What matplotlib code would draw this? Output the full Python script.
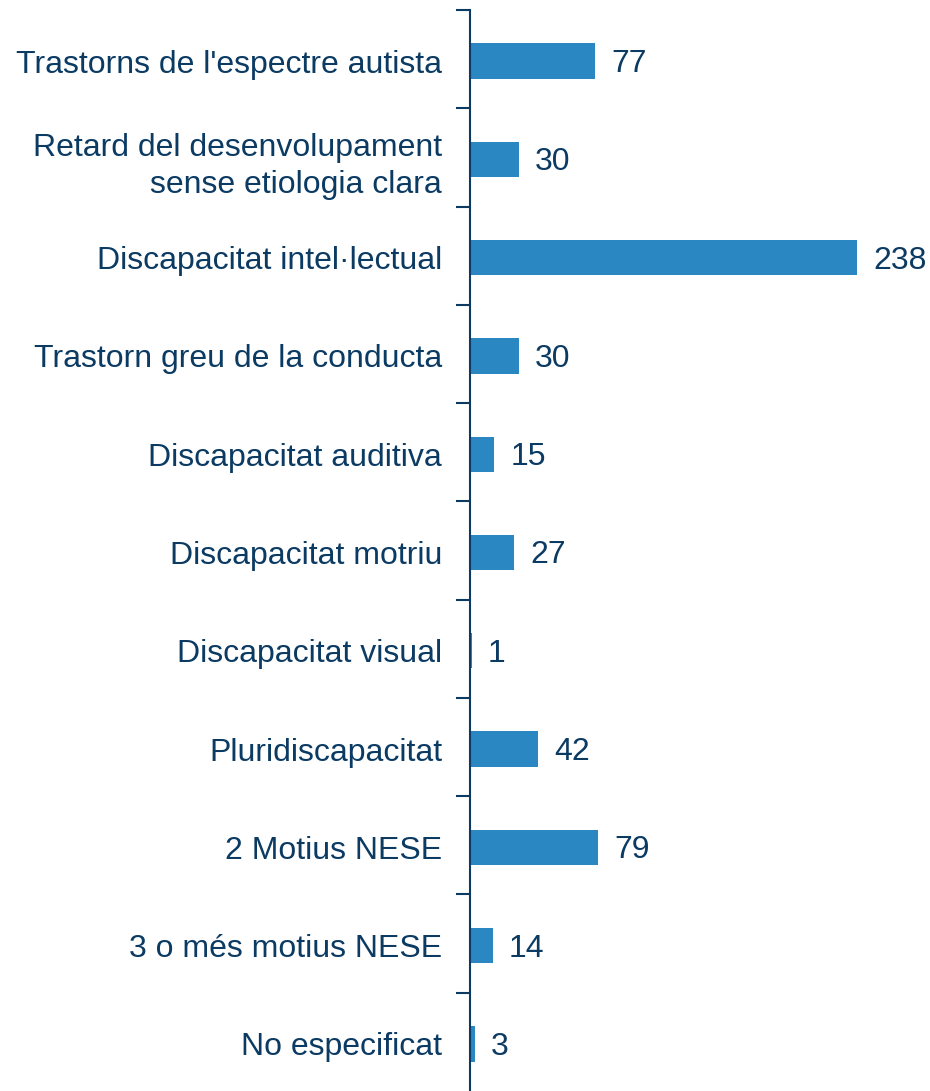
import matplotlib.pyplot as plt
import numpy as np

categories = [
    "Trastorns de l'espectre autista",
    "Retard del desenvolupament\nsense etiologia clara",
    "Discapacitat intel·lectual",
    "Trastorn greu de la conducta",
    "Discapacitat auditiva",
    "Discapacitat motriu",
    "Discapacitat visual",
    "Pluridiscapacitat",
    "2 Motius NESE",
    "3 o més motius NESE",
    "No especificat",
]
values = [77, 30, 238, 30, 15, 27, 1, 42, 79, 14, 3]

text_color = "#0B3A62"
bar_color = "#2A87C1"

plt.rcParams['font.family'] = ['Liberation Sans', 'DejaVu Sans']

fig = plt.figure(figsize=(9.3, 10.91), dpi=100)
ax = fig.add_axes([470 / 930, 0, 460 / 930, 1 - 10 / 1091])

y = np.arange(len(categories))
ax.barh(y + 0.02, values, height=0.36, color=bar_color)
ax.set_ylim(len(categories) - 0.5, -0.5)
ax.set_xlim(0, 460 / 1.626)

for yi, v in zip(y, values):
    ax.text(v + 10, yi + 0.05, str(v), va='center', ha='left', fontsize=23, color=text_color)

ax.set_yticks(y + 0.02)
ax.set_yticklabels(categories, fontsize=23, color=text_color, linespacing=1.3)
ax.tick_params(axis='y', which='major', length=0, pad=20)
ax.set_yticks(np.arange(-0.5, len(categories) - 1, 1), minor=True)
ax.tick_params(axis='y', which='minor', length=10, width=1.5, color=text_color)

ax.set_xticks([])
for s in ['top', 'right', 'bottom']:
    ax.spines[s].set_visible(False)
ax.spines['left'].set_color(text_color)
ax.spines['left'].set_linewidth(1.5)

fig.savefig("out.png", dpi=100)
